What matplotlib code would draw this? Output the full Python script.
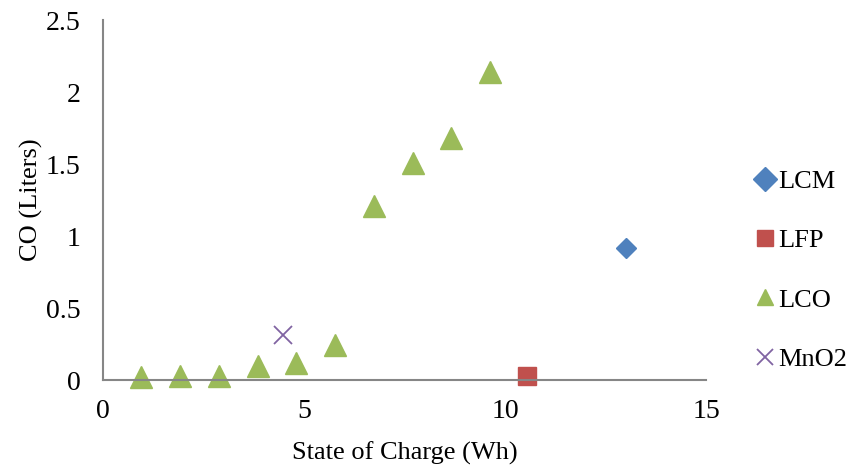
import matplotlib
matplotlib.use("Agg")
import matplotlib.pyplot as plt

plt.rcParams['font.family'] = ['Liberation Serif', 'DejaVu Serif']

# Series data: state of charge (Wh) vs CO volume (liters)
lcm_x = [13.0]
lcm_y = [0.92]
lfp_x = [10.55]
lfp_y = [0.03]
lco_x = [0.95, 1.92, 2.89, 3.85, 4.81, 5.77, 6.73, 7.70, 8.66, 9.62]
lco_y = [0.02, 0.03, 0.03, 0.10, 0.12, 0.24, 1.21, 1.51, 1.68, 2.14]
mno2_x = [4.49]
mno2_y = [0.31]

x_ticks = [0, 5, 10, 15]
y_ticks = [0, 0.5, 1, 1.5, 2, 2.5]
y_tick_labels = ['0', '0.5', '1', '1.5', '2', '2.5']

fig = plt.figure(figsize=(8.57, 4.67), dpi=100)
ax = fig.add_axes([103 / 857, 87 / 467, 603 / 857, 360 / 467])

ax.plot(lcm_x, lcm_y, linestyle='none', marker='D', markersize=10.5,
        color='#4F81BD', label='LCM', clip_on=False)
ax.plot(lfp_x, lfp_y, linestyle='none', marker='s', markersize=13,
        color='#C0504D', label='LFP', clip_on=False)
ax.plot(lco_x, lco_y, linestyle='none', marker='^', markersize=16,
        color='#9BBB59', label='LCO', clip_on=False)
ax.plot(mno2_x, mno2_y, linestyle='none', marker='x', markersize=13,
        markeredgewidth=1.3, color='#8064A2', label='MnO2', clip_on=False)

ax.set_xlim(0, 15)
ax.set_ylim(0, 2.5)
ax.set_xticks(x_ticks)
ax.set_xticklabels([str(t) for t in x_ticks])
ax.set_yticks(y_ticks)
ax.set_yticklabels(y_tick_labels)
ax.tick_params(axis='both', length=0, labelsize=20, colors='black')
ax.tick_params(axis='x', pad=14)
ax.tick_params(axis='y', pad=16)

for side in ('top', 'right'):
    ax.spines[side].set_visible(False)
for side in ('left', 'bottom'):
    ax.spines[side].set_color('#868686')
    ax.spines[side].set_linewidth(1.5)

ax.set_xlabel('State of Charge (Wh)', fontsize=19, labelpad=12)
ax.set_ylabel('CO (Liters)', fontsize=19, labelpad=2)

leg = ax.legend(loc='center left', bbox_to_anchor=(1.068, 0.305), frameon=False,
                fontsize=19, handlelength=0.6, handletextpad=0.2,
                labelspacing=1.36, borderaxespad=0)
for h in leg.legend_handles:
    h.set_markersize(12)

fig.savefig('out.png', dpi=100)
